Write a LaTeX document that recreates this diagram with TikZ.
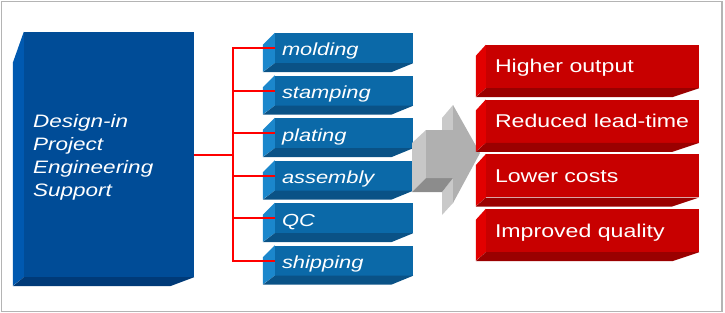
\documentclass[tikz,border=0pt]{standalone}
\usepackage{fontspec}
\setmainfont{Liberation Sans}
\newfontfamily\widesans[FakeStretch=1.25]{Liberation Sans}
\usepackage{tikz}
\usetikzlibrary{calc}
\definecolor{supp}{HTML}{004C97}
\definecolor{suppside}{HTML}{0059B0}
\definecolor{suppbase}{HTML}{003A78}
\definecolor{proc}{HTML}{0B69A8}
\definecolor{procside}{HTML}{1B87CC}
\definecolor{procbase}{HTML}{0A5286}
\definecolor{gain}{HTML}{C80000}
\definecolor{gainside}{HTML}{E20000}
\definecolor{gainbase}{HTML}{9A0000}
\definecolor{wirered}{HTML}{FF0000}
\definecolor{framegray}{HTML}{B4B4B4}

\begin{document}
\begin{tikzpicture}[x=1pt, y=-1pt,
  face/.style={rectangle, inner sep=0pt},
  boxtext/.style={inner sep=0pt, text=white, anchor=base west},
  wire/.style={draw=wirered, line width=2pt}]
  \useasboundingbox (0,0) rectangle (725,313);
  \draw[framegray, line width=1.5pt] (1.5,1.5) rectangle (722,311.5);
  % support block
  \node[face, fill=supp, minimum width=170pt, minimum height=245pt] (supp) at (109,154.5) {};
  \fill[suppside] (supp.north west) -- ++(-11,31) -- ++(0,223) -- (supp.south west) -- cycle;
  \fill[suppbase] (supp.south west) -- ++(-11,9) -- ($(supp.south east)+(-24,9)$) -- (supp.south east) -- cycle;
  \foreach \i/\w in {0/Design-in, 1/Project, 2/Engineering, 3/Support}
    \node[boxtext, font=\widesans\itshape\fontsize{18}{22}\selectfont] (st\i) at (33,{127+23*\i}) {\w};
  % process steps
  \foreach \n/\y/\txt in {1/48/molding, 2/90.5/stamping, 3/133/plating, 4/175.5/assembly, 5/218/QC, 6/260.5/shipping} {
    \node[face, fill=proc, minimum width=138pt, minimum height=30pt] (p\n) at (344,\y) {};
    \fill[procside] (p\n.north west) -- ++(-12,12) -- ++(0,27) -- (p\n.south west) -- cycle;
    \fill[procbase] (p\n.south west) -- ++(-12,9) -- ($(p\n.south east)+(-22,9)$) -- (p\n.south east) -- cycle;
    \node[boxtext, font=\widesans\itshape\fontsize{17.5}{21}\selectfont] (pt\n) at ($(p\n.west)+(7,8)$) {\txt};
  }
  \coordinate (trunk) at (233,154.5);
  \draw[wire] (supp.east) -- (trunk);
  \foreach \n in {1,...,6}
    \draw[wire] (trunk) |- (p\n.west);
  % grey arrow
  \fill[black!21] (442,118) -- (453,105) -- (453,130) -- (442,130) -- cycle;
  \fill[black!21] (442,192) -- (453,178) -- (453,203) -- (442,215) -- cycle;
  \fill[black!22] (412,143) -- (426,130) -- (426,178) -- (412,192) -- cycle;
  \fill[black!45] (412,192) -- (426,178) -- (453,178) -- (442,192) -- cycle;
  \fill[black!31] (426,130) -- (453,130) -- (453,105) -- (480,153) -- (453,203) -- (453,178) -- (426,178) -- cycle;
  % benefits
  \foreach \n/\y/\txt in {1/66.5/Higher output, 2/121.2/Reduced lead-time, 3/175.8/Lower costs, 4/230.5/Improved quality} {
    \node[face, fill=gain, minimum width=213pt, minimum height=43pt] (g\n) at (592.5,\y) {};
    \fill[gainside] (g\n.north west) -- ++(-10,11) -- ++(0,41) -- (g\n.south west) -- cycle;
    \fill[gainbase] (g\n.south west) -- ++(-10,9) -- ($(g\n.south east)+(-27,9)$) -- (g\n.south east) -- cycle;
    \node[boxtext, font=\widesans\fontsize{18.5}{22}\selectfont] (gt\n) at ($(g\n.west)+(9,6.5)$) {\txt};
  }
\end{tikzpicture}
\end{document}
